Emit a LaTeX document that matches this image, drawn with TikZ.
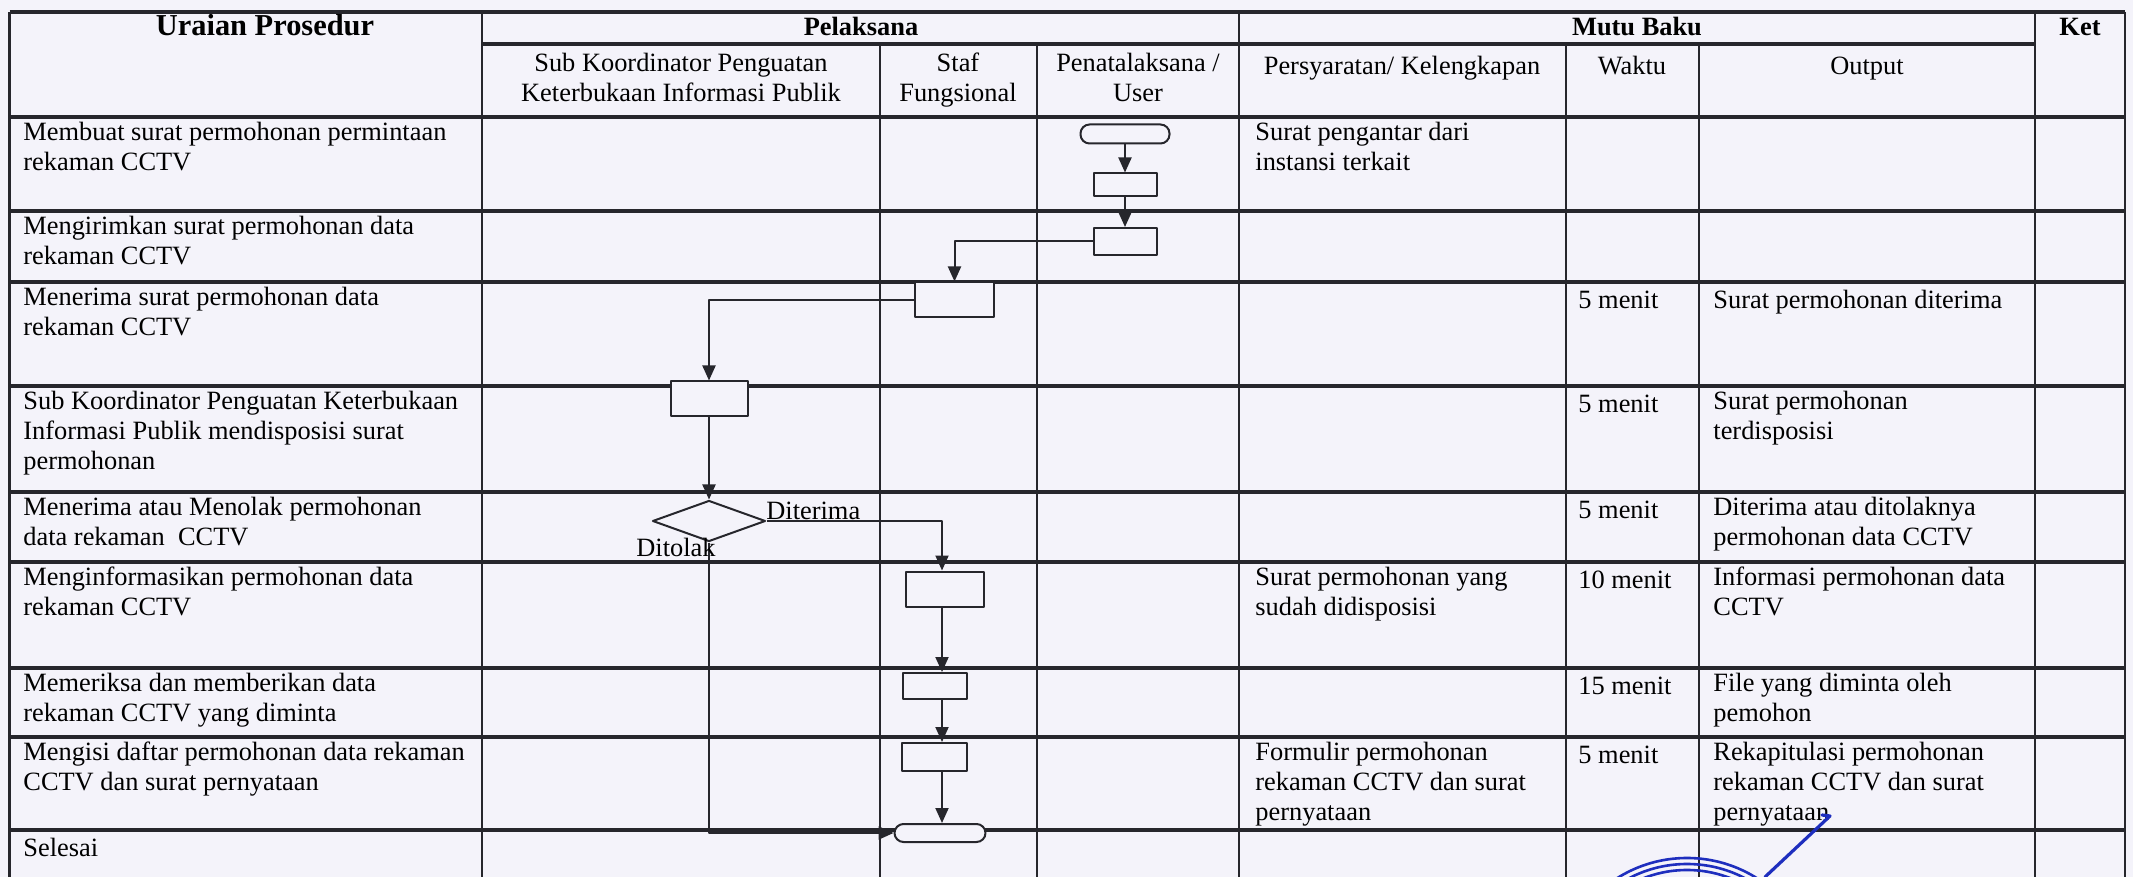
\documentclass[tikz,border=0pt]{standalone}
\usepackage{fontspec}
\setmainfont{Liberation Serif}
\usetikzlibrary{arrows.meta,shapes.geometric}
\definecolor{kertas}{RGB}{244,243,250}
\definecolor{tinta}{RGB}{38,38,44}
\definecolor{stempel}{RGB}{30,46,190}
\newcommand{\hurufisi}{\fontsize{13.2}{15}\selectfont}
\tikzset{
	garis/.style={draw=tinta, line width=1.6pt},
	garistegak/.style={draw=tinta, line width=1.1pt},
	alur/.style={draw=tinta, line width=1pt},
	kotak/.style 2 args={draw=tinta, line width=1pt, fill=kertas, inner sep=0pt, minimum width=#1, minimum height=#2},
	mulaiakhir/.style 2 args={kotak={#1}{#2}, rounded corners=4.5pt},
	cek/.style={diamond, draw=tinta, line width=1pt, fill=kertas, inner sep=0pt, aspect=2.75, minimum width=56.5pt, minimum height=20.5pt},
	isi/.style={inner sep=0pt, align=left, font=\hurufisi, execute at begin node=\strut},
	judul/.style={inner sep=0pt, align=center, font=\hurufisi\bfseries},
}
\begin{document}
\begin{tikzpicture}[x=0.5pt, y=-0.5pt, line join=round, >={Triangle[length=7.5pt,width=6.5pt]}]
	\fill[kertas] (0,0) rectangle (2133,877);
	\useasboundingbox (0,0) rectangle (2133,877);
	
	% garis tabel
	\draw[garis] (9.5,12) -- (2125,12);
	\draw[garis] (482,44) -- (2035,44);
	\foreach \y in {117,211,282,386,492,562,668,737,830}
		\draw[garis] (9.5,\y) -- (2125,\y);
	\foreach \x in {9.5,482,1239,2035,2125}
		\draw[garistegak] (\x,12) -- (\x,877);
	\foreach \x in {880,1037,1566,1699}
		\draw[garistegak] (\x,44) -- (\x,877);
	
	% kepala tabel
	\node[judul, anchor=base, font=\fontsize{15.2}{17}\selectfont\bfseries] (hUraian) at (265,36) {Uraian Prosedur};
	\node[judul, anchor=base] (hPelaksana) at (861,36) {Pelaksana};
	\node[judul, anchor=base] (hMutu) at (1637,36) {Mutu Baku};
	\node[judul, anchor=base] (hKet) at (2080,36) {Ket};
	\foreach \n/\x/\teks in {Sub/681/{Sub Koordinator Penguatan\\Keterbukaan Informasi Publik}, Staf/958/{Staf\\Fungsional}, User/1138/{Penatalaksana /\\User}, Syarat/1402/{Persyaratan/ Kelengkapan}, Waktu/1632/{Waktu}, Output/1867/{Output}}
		\node[isi, align=center, anchor=north] (h\n) at (\x,53) {\teks};
	
	% uraian prosedur
	\foreach \n/\y/\teks in {
		1/117/{Membuat surat permohonan permintaan\\rekaman CCTV},
		2/211/{Mengirimkan surat permohonan data\\rekaman CCTV},
		3/282/{Menerima surat permohonan data\\rekaman CCTV},
		4/386/{Sub Koordinator Penguatan Keterbukaan\\Informasi Publik mendisposisi surat\\permohonan},
		5/492/{Menerima atau Menolak permohonan\\data rekaman\ \ CCTV},
		6/562/{Menginformasikan permohonan data\\rekaman CCTV},
		7/668/{Memeriksa dan memberikan data\\rekaman CCTV yang diminta},
		8/737/{Mengisi daftar permohonan data rekaman\\CCTV dan surat pernyataan},
		9/830/{Selesai}}
		\node[isi, anchor=north west] (u\n) at (23,\y+5) {\teks};
	
	% mutu baku
	\foreach \n/\y/\teks in {1/117/{Surat pengantar dari\\instansi terkait}, 6/562/{Surat permohonan yang\\sudah didisposisi}, 8/737/{Formulir permohonan\\rekaman CCTV dan surat\\pernyataan}}
		\node[isi, anchor=north west] (s\n) at (1255,\y+5) {\teks};
	\foreach \n/\y/\teks in {3/282/5 menit, 4/386/5 menit, 5/492/5 menit, 6/562/10 menit, 7/668/15 menit, 8/737/5 menit}
		\node[isi, anchor=north west] (w\n) at (1578,\y+5) {\teks};
	\foreach \n/\y/\teks in {3/282/{Surat permohonan diterima}, 4/386/{Surat permohonan\\terdisposisi}, 5/492/{Diterima atau ditolaknya\\permohonan data CCTV}, 6/562/{Informasi permohonan data\\CCTV}, 7/668/{File yang diminta oleh\\pemohon}, 8/737/{Rekapitulasi permohonan\\rekaman CCTV dan surat\\pernyataan}}
		\node[isi, anchor=north west] (o\n) at (1713,\y+5) {\teks};
	
	% bagan alir
	\node[mulaiakhir={44.5pt}{9.5pt}] (mulai) at (1125,134) {};
	\node[kotak={31.5pt}{11.5pt}] (k1) at (1125,185) {};
	\node[kotak={31.5pt}{13.5pt}] (k2) at (1125,241.5) {};
	\node[kotak={39.5pt}{17.5pt}] (k3) at (954.5,300) {};
	\node[kotak={38.5pt}{17.5pt}] (k4) at (709,399) {};
	\node[cek] (cek) at (709,521) {};
	\node[kotak={39pt}{17.5pt}] (k5) at (945,589) {};
	\node[kotak={32pt}{13pt}] (k6) at (934.5,686) {};
	\node[kotak={32.5pt}{14pt}] (k7) at (934,757) {};
	\node[mulaiakhir={45.5pt}{9pt}] (selesai) at (940,833) {};
	\coordinate (jalur) at (942,0);
	
	\draw[alur,->] (mulai) -- (k1);
	\draw[alur,->] (k1) -- (k2);
	\draw[alur,->] (k2.west) -| (k3.north);
	\draw[alur,->] (k3.west) -| (k4.north);
	\draw[alur,->] (k4) -- (cek);
	\draw[alur,->] (cek.east) -| (k5.north -| jalur);
	\draw[alur,->] (k5.south -| jalur) -- (k6.north -| jalur);
	\draw[alur,->] (k6.south -| jalur) -- (k7.north -| jalur);
	\draw[alur,->] (k7.south -| jalur) -- (selesai.north -| jalur);
	\draw[alur,->] (cek.south) |- (selesai.west);
	\node[isi, anchor=base west, execute at begin node={}] (lTerima) at (766,519) {Diterima};
	\node[isi, anchor=base east, execute at begin node={}] (lTolak) at (716,556) {Ditolak};
	
	% stempel
	\begin{scope}
		\clip (0,0) rectangle (2133,877);
		\foreach \r in {131,125,119}
			\draw[stempel, line width=1.3pt] (1687,989) circle[radius=\r];
		\draw[stempel, line width=1.6pt, line cap=round] (1765,877) -- (1830,816) -- (1822,815);
	\end{scope}
\end{tikzpicture}
\end{document}
